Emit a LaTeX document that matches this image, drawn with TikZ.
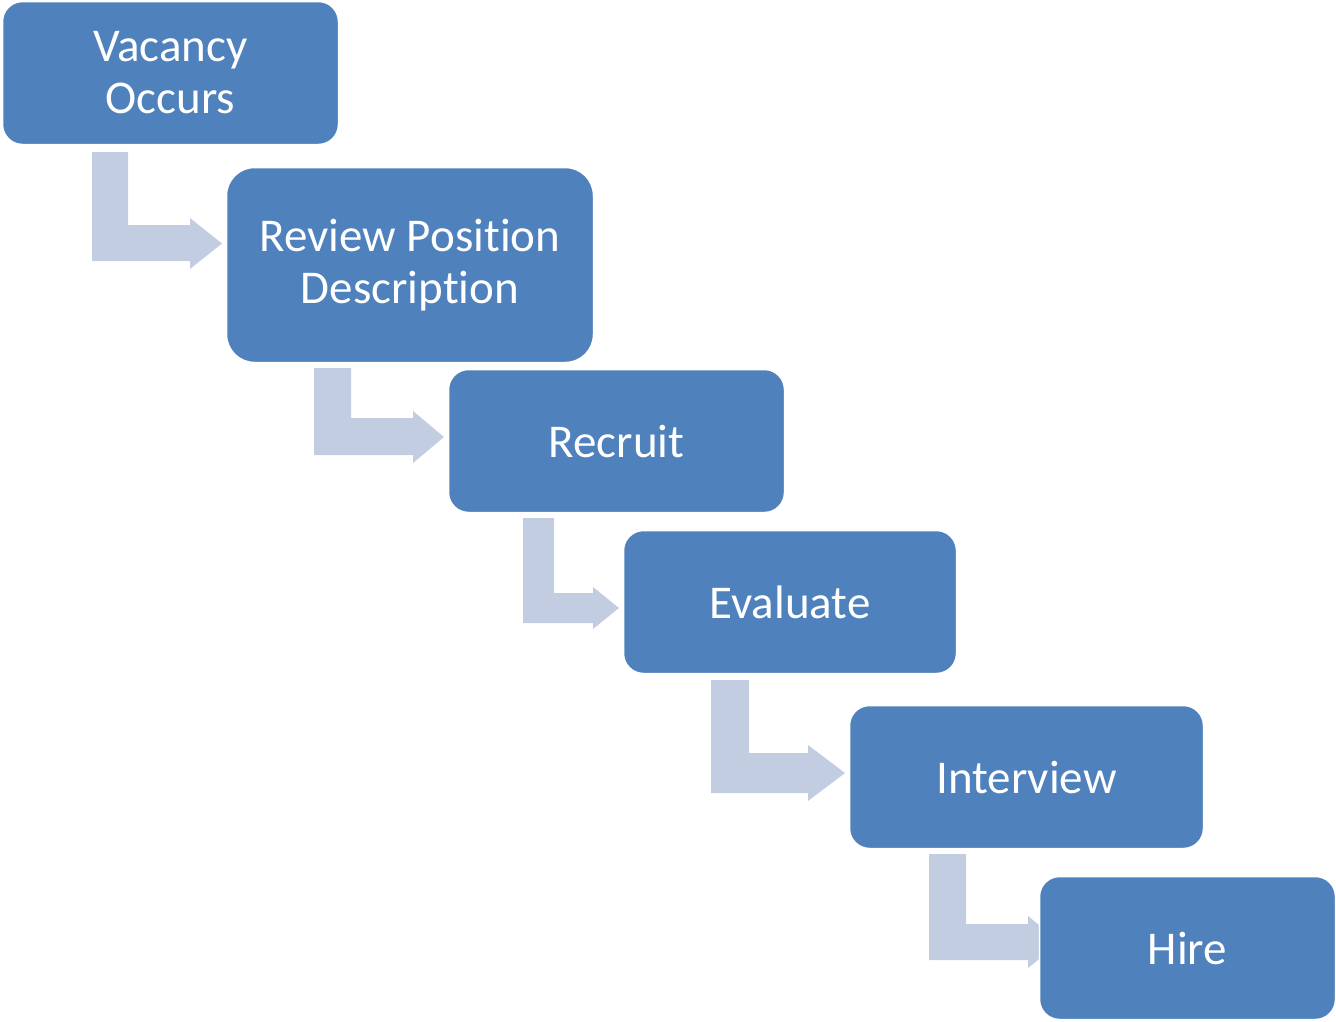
\documentclass[tikz,border=0pt]{standalone}
\usepackage{fontspec}
\setmainfont{Carlito}[Ligatures=NoCommon]
\definecolor{boxblue}{RGB}{79,129,189}
\definecolor{arrowgray}{RGB}{195,205,225}
\begin{document}
\begin{tikzpicture}[x=1pt,y=-1pt,
  stepbox/.style={rectangle, rounded corners=20pt, fill=boxblue, draw=white, line width=1.5pt,
    inner sep=0pt, text=white, align=center,
    font=\fontsize{47}{52}\selectfont},
  bent/.style={fill=arrowgray, draw=none}]
\useasboundingbox (0,0) rectangle (1336,1021);
% bent arrows (drawn beneath the boxes)
\fill[bent] (92,152) -- (128,152) -- (128,225) -- (190,225) -- (190,218) -- (222,243.5) -- (190,269) -- (190,261) -- (92,261) -- cycle;
\fill[bent] (314,368) -- (351,368) -- (351,418) -- (413,418) -- (413,411) -- (444,437) -- (413,463) -- (413,455) -- (314,455) -- cycle;
\fill[bent] (523,518) -- (554,518) -- (554,593) -- (593,593) -- (593,587) -- (619,608) -- (593,629) -- (593,623) -- (523,623) -- cycle;
\fill[bent] (711,680) -- (749,680) -- (749,753) -- (808,753) -- (808,745) -- (845,773) -- (808,801) -- (808,793) -- (711,793) -- cycle;
\fill[bent] (929,854) -- (966,854) -- (966,924) -- (1028,924) -- (1028,916) -- (1060,942) -- (1028,968) -- (1028,960) -- (929,960) -- cycle;
% boxes
\node[stepbox, minimum width=336pt, minimum height=143pt] (vac) at (170.5,73) {Vacancy\\Occurs};
\node[stepbox, minimum width=367pt, minimum height=195pt, rounded corners=28pt] (rev) at (410,265) {Review Position\\Description};
\node[stepbox, minimum width=336pt, minimum height=143pt] (rec) at (616.5,441) {Recruit};
\node[stepbox, minimum width=333pt, minimum height=143pt] (eva) at (790,602) {Evaluate};
\node[stepbox, minimum width=354pt, minimum height=143pt] (int) at (1026.5,777) {Interview};
\node[stepbox, minimum width=296pt, minimum height=143pt] (hir) at (1187.5,948) {Hire};
\end{tikzpicture}
\end{document}
